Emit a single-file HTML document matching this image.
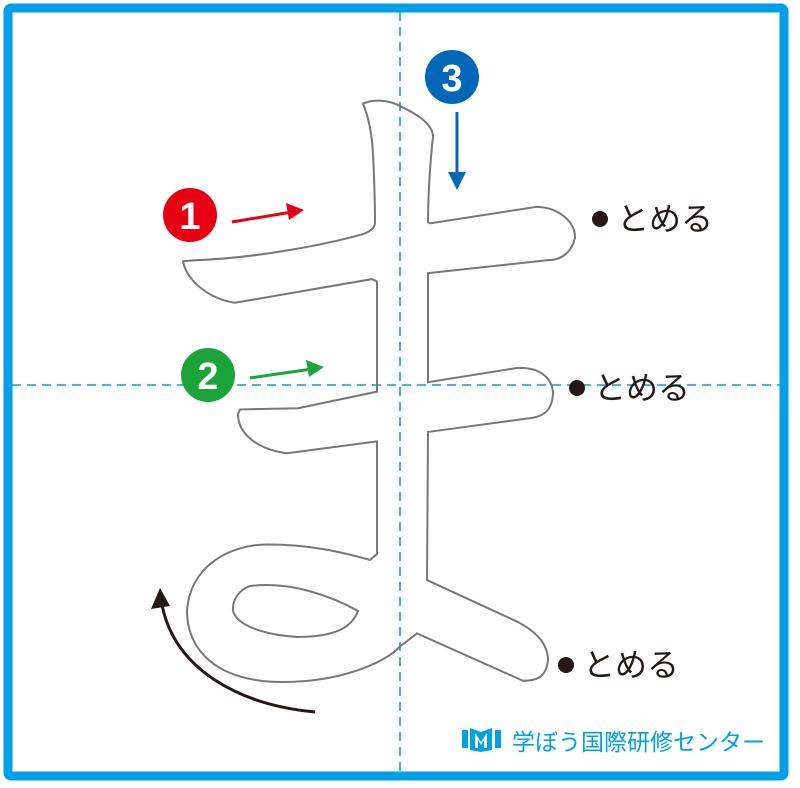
<!DOCTYPE html>
<html><head><meta charset="utf-8"><style>
body{margin:0;background:#fff}
svg{display:block}
text{font-family:"Liberation Sans","Noto Sans CJK JP",sans-serif}
</style></head><body>
<svg width="800" height="788" viewBox="0 0 800 788" xmlns="http://www.w3.org/2000/svg">
<rect x="0" y="0" width="800" height="788" fill="#fff"/>
<rect x="8" y="8" width="776" height="768" fill="none" stroke="#00a0e9" stroke-width="9" rx="3"/>
<line x1="400" y1="12" x2="400" y2="772" stroke="#00a0e9" stroke-width="1.6" stroke-dasharray="9,6"/>
<line x1="12" y1="385" x2="780" y2="385" stroke="#00a0e9" stroke-width="1.6" stroke-dasharray="9,6"/>
<g transform="translate(0,80) scale(1,1.185) translate(0,-80)">
<path vector-effect="non-scaling-stroke" d="M363,100 C375,95 392,98 400,102 C420,110 433,118 433,128 C430,150 428,180 428,200 L430,201 L537,187 C560,188 575,200 575,213 C572,225 562,232 548,232 L428,243 L428,335 L517,323 C540,322 553,332 553,345 C552,358 545,363 533,365 L428,377 L427,502 L517,537 C535,545 548,555 548,570 C546,582 540,587 523,587 L417,547 L400,558 C385,572 340,588 283,588 C215,588 187,560 187,528 C190,490 230,472 267,472 C310,472 340,478 370,485 L377,480 L377,385 L287,395 C260,392 238,380 238,362 L240,358 L298,357 L377,343 L377,250 L372,248 L235,268 C210,265 187,250 183,233 L197,232 C260,230 330,218 363,210 C370,208 375,205 375,200 C375,180 374,160 373,143 C372,125 368,110 363,100 Z" fill="none" stroke="#777" stroke-width="2"/>
<path vector-effect="non-scaling-stroke" d="M250,507 C290,503 330,515 358,528 C352,542 335,550 297,550 C262,548 237,540 233,528 C232,518 240,510 250,507 Z" fill="none" stroke="#777" stroke-width="2"/>
</g>
<circle cx="190" cy="215" r="27" fill="#e60012"/>
<text x="190" y="229" font-size="38" font-weight="bold" fill="#fff" text-anchor="middle">1</text>
<line x1="232" y1="222" x2="292" y2="212" stroke="#e60012" stroke-width="3"/>
<polygon points="304,210 286,203 289,220" fill="#e60012"/>
<circle cx="208" cy="375" r="27" fill="#1aa43a"/>
<text x="208" y="389" font-size="38" font-weight="bold" fill="#fff" text-anchor="middle">2</text>
<line x1="250" y1="378" x2="312" y2="369" stroke="#1aa43a" stroke-width="3"/>
<polygon points="324,367 306,360 309,377" fill="#1aa43a"/>
<circle cx="452" cy="77" r="27" fill="#0068b7"/>
<text x="452" y="91" font-size="38" font-weight="bold" fill="#fff" text-anchor="middle">3</text>
<line x1="457" y1="112" x2="457" y2="176" stroke="#0068b7" stroke-width="3"/>
<polygon points="457,190 448,172 466,172" fill="#0068b7"/>
<path d="M315,712 C240,705 175,670 162,605" fill="none" stroke="#231815" stroke-width="3"/>
<polygon points="160,588 151,609 170,606" fill="#231815"/>
<g font-size="32" fill="#231815">
<circle cx="600" cy="219" r="8" fill="#231815"/><text x="617" y="230">とめる</text>
<circle cx="577" cy="388" r="8" fill="#231815"/><text x="594" y="399">とめる</text>
<circle cx="566" cy="665" r="8" fill="#231815"/><text x="583" y="676">とめる</text>
</g>
<g fill="#00a0e9">
<rect x="462" y="730" width="6" height="18"/><rect x="495" y="730" width="6" height="18"/>
<path d="M470,728 L481,732 L492,728 L492,750 L481,752 L470,750 Z"/>
<path d="M475,733 L481,742 L487,733 L487,748 L484,748 L484,740 L481,745 L478,740 L478,748 L475,748 Z" fill="#fff"/>
<text x="512" y="750" font-size="23">学ぼう国際研修センター</text>
</g>
</svg>
</body></html>
